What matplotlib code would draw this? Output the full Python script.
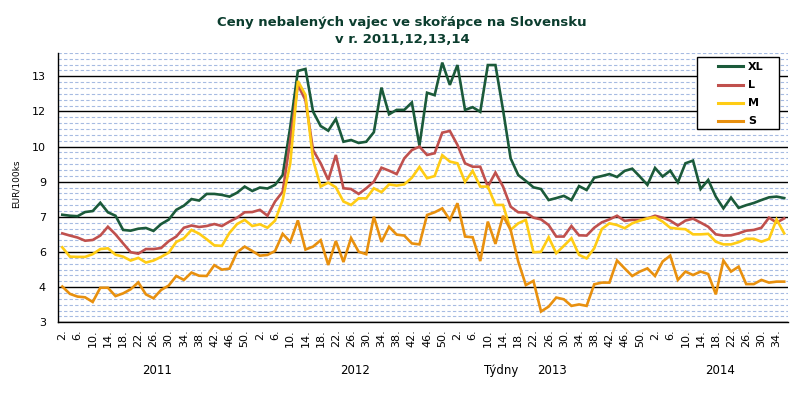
import numpy as np
import matplotlib
matplotlib.use("Agg")
import matplotlib.pyplot as plt
from matplotlib.transforms import blended_transform_factory
from matplotlib.lines import Line2D
from matplotlib.patches import Rectangle

# ── data: biweekly prices EUR/100ks, 2011 w2 … 2014 w36 ───────────────────────
years = [2011, 2012, 2013, 2014]
weeks_per_year = {2011: list(range(2, 53, 2)), 2012: list(range(2, 53, 2)),
                  2013: list(range(2, 53, 2)), 2014: list(range(2, 37, 2))}

XL = [7.39, 7.35, 7.33, 7.50, 7.54, 7.88, 7.49, 7.35, 6.77, 6.74, 6.82, 6.85, 6.73,
      7.01, 7.19, 7.59, 7.76, 8.03, 7.97, 8.24, 8.24, 8.20, 8.13, 8.29, 8.54, 8.36,
      8.50, 8.46, 8.61, 9.01, 10.98, 13.26, 13.34, 11.60, 11.01, 10.82, 11.30, 10.37,
      10.44, 10.32, 10.37, 10.76, 12.58, 11.49, 11.67, 11.67, 11.97, 10.21, 12.37,
      12.27, 13.60, 12.69, 13.50, 11.67, 11.78, 11.59, 13.50, 13.50, 11.67, 9.69,
      9.01, 8.77, 8.51, 8.44, 7.99, 8.07, 8.16, 7.99, 8.56, 8.40, 8.90, 8.97, 9.05,
      8.93, 9.18, 9.27, 8.95, 8.61, 9.30, 8.95, 9.19, 8.71, 9.49, 9.60, 8.44, 8.81,
      8.13, 7.65, 8.09, 7.67, 7.78, 7.87, 7.99, 8.10, 8.13, 8.07]
L = [6.63, 6.54, 6.46, 6.33, 6.36, 6.54, 6.90, 6.59, 6.22, 5.86, 5.80, 5.99, 5.99,
     6.03, 6.31, 6.50, 6.86, 6.95, 6.89, 6.93, 7.01, 6.93, 7.11, 7.27, 7.49, 7.50,
     7.59, 7.35, 7.93, 8.33, 10.44, 12.69, 12.07, 10.03, 9.49, 8.81, 9.83, 8.47,
     8.44, 8.24, 8.47, 8.74, 9.31, 9.19, 9.05, 9.69, 10.03, 10.17, 9.83, 9.90,
     10.74, 10.81, 10.24, 9.49, 9.35, 9.35, 8.54, 9.11, 8.54, 7.72, 7.49, 7.48,
     7.27, 7.20, 6.97, 6.50, 6.50, 6.93, 6.55, 6.54, 6.86, 7.08, 7.20, 7.35, 7.14,
     7.18, 7.18, 7.24, 7.35, 7.27, 7.15, 6.95, 7.15, 7.23, 7.07, 6.90, 6.59, 6.54,
     6.55, 6.63, 6.74, 6.77, 6.86, 7.27, 7.07, 7.24]
M = [6.06, 5.68, 5.67, 5.67, 5.78, 5.99, 6.02, 5.76, 5.68, 5.52, 5.63, 5.44, 5.52,
     5.67, 5.84, 6.28, 6.43, 6.77, 6.62, 6.39, 6.14, 6.12, 6.65, 7.01, 7.18, 6.93,
     7.00, 6.86, 7.15, 7.99, 9.49, 12.85, 12.28, 9.63, 8.54, 8.70, 8.51, 7.93, 7.79,
     8.06, 8.06, 8.47, 8.31, 8.63, 8.58, 8.63, 8.90, 9.34, 8.88, 8.97, 9.82, 9.56,
     9.49, 8.73, 9.18, 8.54, 8.54, 7.79, 7.79, 6.77, 7.04, 7.18, 5.86, 5.88, 6.47,
     5.82, 6.12, 6.43, 5.75, 5.61, 6.02, 6.81, 7.04, 6.97, 6.84, 7.04, 7.15, 7.24,
     7.29, 7.11, 6.86, 6.82, 6.80, 6.59, 6.59, 6.61, 6.29, 6.18, 6.18, 6.27, 6.41,
     6.41, 6.29, 6.40, 7.20, 6.63]
S = [4.46, 4.16, 4.05, 4.02, 3.83, 4.41, 4.41, 4.07, 4.18, 4.35, 4.63, 4.14, 3.98,
     4.32, 4.50, 4.89, 4.73, 5.03, 4.90, 4.89, 5.33, 5.15, 5.19, 5.86, 6.09, 5.91,
     5.72, 5.75, 5.91, 6.61, 6.28, 7.16, 5.97, 6.09, 6.35, 5.34, 6.32, 5.46, 6.44,
     5.88, 5.78, 7.31, 6.28, 6.90, 6.58, 6.54, 6.22, 6.18, 7.38, 7.49, 7.65, 7.18,
     7.86, 6.50, 6.47, 5.50, 7.11, 6.20, 7.35, 6.77, 5.48, 4.52, 4.69, 3.44, 3.64,
     4.01, 3.94, 3.67, 3.73, 3.67, 4.55, 4.62, 4.62, 5.52, 5.20, 4.89, 5.07, 5.20,
     4.89, 5.48, 5.72, 4.73, 5.07, 4.93, 5.07, 4.97, 4.14, 5.52, 5.07, 5.27, 4.56,
     4.56, 4.73, 4.62, 4.66, 4.66]

series = [("XL", XL, "#1b5a3a"), ("L", L, "#c0504d"),
          ("M", M, "#ffcc14"), ("S", S, "#e8900e")]

title = "Ceny nebalených vajec ve skořápce na Slovensku\nv r. 2011,12,13,14"
ylabel = "EUR/100ks"
xlabel = "Týdny"

# y axis (Excel-like: 3..14, major unit 11/7.667, minor = major/6)
y_min, y_max = 3.0, 14.0
major = 33.0 / 23.0

# ── build categories ─────────────────────────────────────────────────────────
weeks, year_of = [], []
for yr in years:
    for w in weeks_per_year[yr]:
        weeks.append(w)
        year_of.append(yr)
x = np.arange(len(weeks))

W, H = 804, 411
fig = plt.figure(figsize=(W / 100, H / 100), dpi=100)
left, right, top, bottom = 58.5, 788, 52.8, 322.3
ax = fig.add_axes([left / W, 1 - bottom / H, (right - left) / W, (bottom - top) / H])

for name, vals, col in series:
    ax.plot(x, vals, color=col, lw=1.9, solid_joinstyle="miter", zorder=3)

ax.set_xlim(-0.5, len(x) - 0.5)
ax.set_ylim(y_min, y_max)

maj = [y_min + k * major for k in range(8)]
mino = [y_min + k * major / 6 for k in range(47) if k % 6 != 0]
ax.set_yticks(maj)
ax.set_yticklabels([f"{v:.0f}" for v in maj], fontsize=8)
ax.set_yticks(mino, minor=True)
ax.yaxis.grid(True, which="minor", color="#a6bbe2", lw=0.8, ls=(0, (3, 2)))
ax.yaxis.grid(True, which="major", color="black", lw=1.0)
ax.set_axisbelow(True)
ax.tick_params(axis="y", which="both", length=0, pad=9)

tick_idx = [i for i in x if weeks[i] % 4 == 2]
ax.set_xticks(tick_idx)
ax.set_xticklabels([f"{weeks[i]}." for i in tick_idx], rotation=90, fontsize=8)
ax.tick_params(axis="x", length=0, pad=5)

for sp in ["top", "right"]:
    ax.spines[sp].set_visible(False)
for sp in ["left", "bottom"]:
    ax.spines[sp].set_color("black")
    ax.spines[sp].set_linewidth(1.0)

# year labels under each year's span
tr = blended_transform_factory(ax.transData, fig.transFigure)
for yr in years:
    idx = [i for i in x if year_of[i] == yr]
    ax.text((idx[0] + idx[-1]) / 2, 1 - 370 / H, str(yr), transform=tr,
            ha="center", va="center", fontsize=8.5)
fig.text(501 / W, 1 - 370 / H, xlabel, ha="center", va="center", fontsize=8.5)
fig.text(16 / W, 1 - 184 / H, ylabel, rotation=90, ha="center", va="center", fontsize=6.5)

fig.text(0.5, 1 - 31 / H, title, ha="center", va="center", fontsize=9.5,
         fontweight="bold", color="#0b3d2e", linespacing=1.35)

# legend box (Excel style: wide padding, line sample then bold label)
lx0, ly0, lx1, ly1 = 697, 57.3, 779.5, 129.3
fig.patches.append(Rectangle((lx0 / W, 1 - ly1 / H), (lx1 - lx0) / W, (ly1 - ly0) / H,
                             transform=fig.transFigure, facecolor="white",
                             edgecolor="black", lw=1.0, zorder=5))
for k, (name, _, col) in enumerate(series):
    yy = 1 - (66.5 + 18.2 * k) / H
    fig.lines.append(Line2D([718 / W, 743 / W], [yy, yy], transform=fig.transFigure,
                            color=col, lw=2.2, zorder=6))
    fig.text(748 / W, yy, name, ha="left", va="center", fontsize=8,
             fontweight="bold", zorder=6)

fig.savefig("out.png", dpi=100, facecolor="white")
